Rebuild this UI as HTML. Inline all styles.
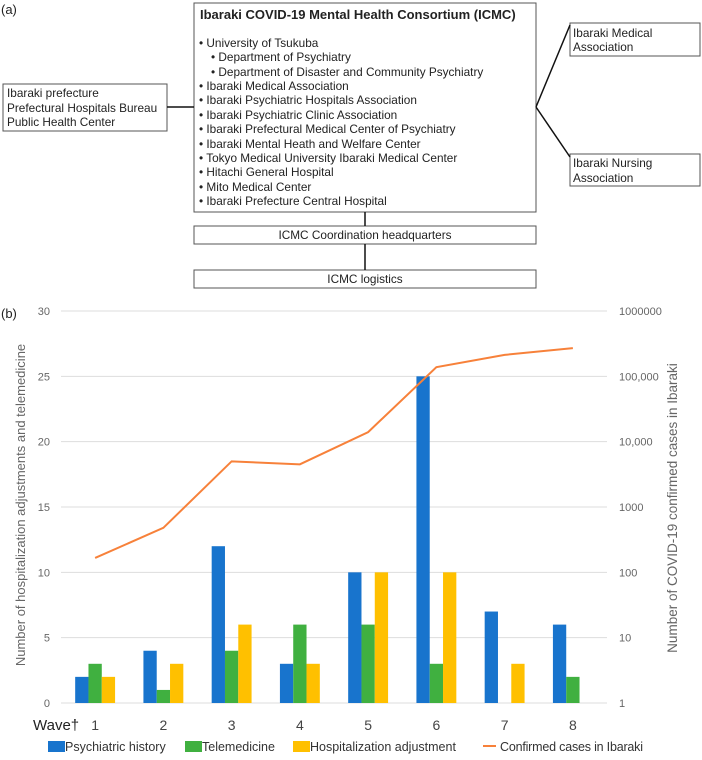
<!DOCTYPE html>
<html><head><meta charset="utf-8"><style>
body{margin:0;background:#fff;font-family:"Liberation Sans",sans-serif;}
svg text{font-family:"Liberation Sans",sans-serif;}
</style></head><body>
<svg width="702" height="755" viewBox="0 0 702 755" xmlns="http://www.w3.org/2000/svg">
<g fill="none" stroke="#555" stroke-width="1">
<text x="1" y="14" font-size="13" fill="#222" stroke="none">(a)</text>
<rect x="194" y="3" width="342" height="209"/>
<rect x="3" y="84" width="164" height="47"/>
<rect x="570" y="23" width="130" height="33"/>
<rect x="570" y="154" width="130" height="32"/>
<rect x="194" y="226" width="342" height="18"/>
<rect x="194" y="270" width="342" height="18"/>
<g stroke="#111" stroke-width="1.5">
<line x1="167" y1="107" x2="194" y2="107"/>
<line x1="536" y1="107" x2="570" y2="25"/>
<line x1="536" y1="107" x2="570" y2="157"/>
<line x1="365" y1="212" x2="365" y2="226"/>
<line x1="365" y1="244" x2="365" y2="270"/>
</g>
<g fill="#222" stroke="none" font-size="11.8">
<text x="200" y="19" font-size="13" font-weight="bold">Ibaraki COVID-19 Mental Health Consortium (ICMC)</text>
<text x="199" y="47">•  University of Tsukuba</text>
<text x="211" y="61">•  Department of Psychiatry</text>
<text x="211" y="76">•  Department of Disaster and Community Psychiatry</text>
<text x="199" y="90">•  Ibaraki Medical Association</text>
<text x="199" y="104">•  Ibaraki Psychiatric Hospitals Association</text>
<text x="199" y="119">•  Ibaraki Psychiatric Clinic Association</text>
<text x="199" y="133">•  Ibaraki Prefectural Medical Center of Psychiatry</text>
<text x="199" y="148">•  Ibaraki Mental Heath and Welfare Center</text>
<text x="199" y="162">•  Tokyo Medical University Ibaraki Medical Center</text>
<text x="199" y="176">•  Hitachi General Hospital</text>
<text x="199" y="191">•  Mito Medical Center</text>
<text x="199" y="205">•  Ibaraki Prefecture Central Hospital</text>
<text x="7" y="97">Ibaraki prefecture</text>
<text x="7" y="112">Prefectural Hospitals Bureau</text>
<text x="7" y="126">Public Health Center</text>
<text x="573" y="37">Ibaraki Medical</text>
<text x="573" y="51">Association</text>
<text x="573" y="167">Ibaraki Nursing</text>
<text x="573" y="182">Association</text>
<text x="365" y="239" text-anchor="middle">ICMC Coordination headquarters</text>
<text x="365" y="283" text-anchor="middle">ICMC logistics</text>
</g>
</g>
<g id="chart"></g>
</svg>
<script>
const waves = ["1","2","3","4","5","6","7","8"];
const psychiatricHistory = [2,4,12,3,10,25,7,6];
const telemedicine = [3,1,4,6,6,3,0,2];
const hospitalization = [2,3,6,3,10,10,3,0];
const confirmedCases = [166,480,5000,4500,14000,138000,213000,270000];
const leftTicks = [0,5,10,15,20,25,30];
const rightTicks = ["1","10","100","1000","10,000","100,000","1000000"];

const NS="http://www.w3.org/2000/svg";
const g=document.getElementById('chart');
const X0=61,X1=607,YT=311,YB=703;
const band=(X1-X0)/waves.length;
const xc=i=>X0+band*(i+0.5);
const yL=v=>YB-(v/30)*(YB-YT);
const yR=v=>YB-(Math.log10(v)/6)*(YB-YT);
function mk(tag,attrs,parent){const e=document.createElementNS(NS,tag);for(const k in attrs)e.setAttribute(k,attrs[k]);(parent||g).appendChild(e);return e;}
mk('text',{x:1,y:318,'font-size':13,fill:'#222'}).textContent='(b)';
leftTicks.forEach((t,i)=>{
  const l=mk('line',{x1:X0,x2:X1,y1:yL(t),y2:yL(t),stroke:'#ddd','stroke-width':1});
  
  
  const tx=mk('text',{x:50,y:yL(t)+4,'font-size':11,fill:'#666','text-anchor':'end'});
  tx.textContent=t;
  
  
  const rt=mk('text',{x:619,y:yL(t)+4,'font-size':11,fill:'#666'});
  rt.textContent=rightTicks[i];
  
  
});
const bw=13.3;
const series=[[psychiatricHistory,'#1874cd',-1,'bar-psychiatric'],[telemedicine,'#40b040',0,'bar-telemedicine'],[hospitalization,'#ffc000',1,'bar-hospitalization']];
series.forEach(([arr,col,off,nm])=>{
  arr.forEach((v,i)=>{
    if(v<=0)return;
    const r=mk('rect',{x:xc(i)+off*bw-bw/2,y:yL(v),width:bw,height:YB-yL(v),fill:col});
    
    
  });
});
const pts=confirmedCases.map((v,i)=>xc(i)+','+yR(v)).join(' ');
const pl=mk('polyline',{points:pts,fill:'none',stroke:'#f7813a','stroke-width':2});


const wl=mk('text',{x:33,y:730,'font-size':15,fill:'#222'});
wl.textContent='Wave†';


waves.forEach((w,i)=>{
  const t=mk('text',{x:xc(i),y:730,'font-size':14,fill:'#444','text-anchor':'middle'});
  t.textContent=w;
  
  
});
const ly=mk('text',{x:0,y:0,'font-size':13,fill:'#666','text-anchor':'middle',transform:'translate(25,505) rotate(-90)'});
ly.textContent='Number of hospitalization adjustments and telemedicine';


const ry=mk('text',{x:0,y:0,'font-size':13.5,fill:'#666','text-anchor':'middle',transform:'translate(677,508) rotate(-90)'});
ry.textContent='Number of COVID-19 confirmed cases in Ibaraki';


const leg=[['rect','#1874cd','Psychiatric history',48],['rect','#40b040','Telemedicine',185],['rect','#ffc000','Hospitalization adjustment',293],['line','#f7813a','Confirmed cases in Ibaraki',483]];
leg.forEach(([k,c,txt,x])=>{
  const e=k==='rect'?mk('rect',{x:x,y:741,width:17,height:11,fill:c}):mk('line',{x1:x,x2:x+13,y1:746,y2:746,stroke:c,'stroke-width':2});
  
  
  const t=mk('text',{x:x+17,y:751,'font-size':12.5,fill:'#333',textLength:k==='line'?143:null});
  if(k!=='line')t.removeAttribute('textLength');
  t.textContent=txt;
  
  
});
</script>
</body></html>
